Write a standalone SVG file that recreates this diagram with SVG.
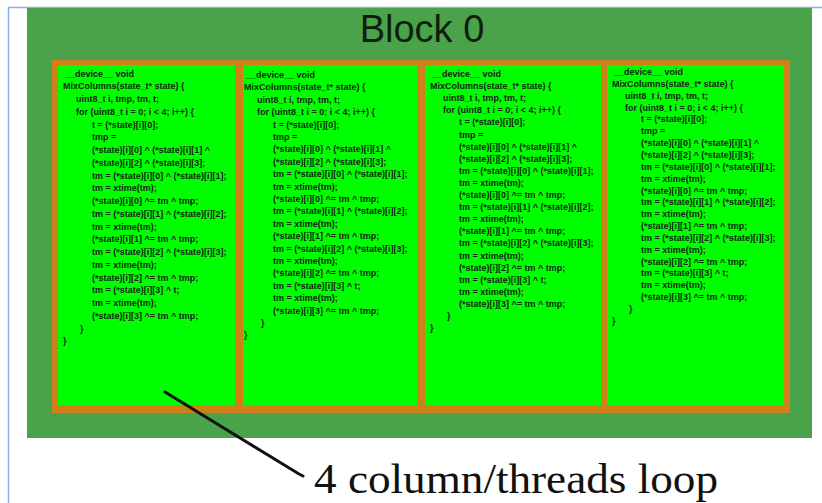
<svg xmlns="http://www.w3.org/2000/svg" width="822" height="503" viewBox="0 0 822 503">
  <style>
    .frame { fill: none; stroke: #86aee6; stroke-width: 1.5; }
    .block { fill: #4aa24a; }
    .border { fill: #d08018; }
    .col { fill: #00ff00; }
    .title { font-family: "Liberation Sans", Arial, sans-serif; font-size: 38px; fill: #0c1f0c; }
    .code { font-family: "Liberation Sans", Arial, sans-serif; font-size: 9px; font-weight: bold; fill: #122612; }
    .label { font-family: "Liberation Serif", "Times New Roman", serif; font-size: 43px; fill: #111; }
    .pointer { stroke: #111; stroke-width: 3; stroke-linecap: round; fill: none; }
  </style>

  <rect width="822" height="503" fill="#ffffff"/>
  <path class="frame" d="M8.5 503 V7.5 H822"/>

  <g id="block0">
    <rect class="block" x="27" y="8" width="785" height="430"/>
    <text class="title" x="422" y="42" text-anchor="middle">Block 0</text>
    <rect class="border" x="52" y="60" width="738" height="353"/>
  </g>

  <!-- thread 0: MixColumns kernel -->
  <g id="thread0">
    <rect class="col" x="58" y="65" width="177" height="340"/>
    <text class="code">
      <tspan x="65" y="76.5">__device__  void</tspan>
      <tspan x="63" dy="12.75">MixColumns(state_t* state) {</tspan>
      <tspan x="76" dy="12.75">uint8_t i, tmp, tm, t;</tspan>
      <tspan x="76" dy="12.75">for (uint8_t i = 0; i &lt; 4; i++) {</tspan>
      <tspan x="92" dy="12.75">t  = (*state)[i][0];</tspan>
      <tspan x="92" dy="12.75">tmp =</tspan>
      <tspan x="92" dy="12.75">(*state)[i][0] ^ (*state)[i][1] ^</tspan>
      <tspan x="92" dy="12.75">(*state)[i][2] ^ (*state)[i][3];</tspan>
      <tspan x="92" dy="12.75">tm = (*state)[i][0] ^ (*state)[i][1];</tspan>
      <tspan x="92" dy="12.75">tm = xtime(tm);</tspan>
      <tspan x="92" dy="12.75">(*state)[i][0] ^= tm ^ tmp;</tspan>
      <tspan x="92" dy="12.75">tm = (*state)[i][1] ^ (*state)[i][2];</tspan>
      <tspan x="92" dy="12.75">tm = xtime(tm);</tspan>
      <tspan x="92" dy="12.75">(*state)[i][1] ^= tm ^ tmp;</tspan>
      <tspan x="92" dy="12.75">tm = (*state)[i][2] ^ (*state)[i][3];</tspan>
      <tspan x="92" dy="12.75">tm = xtime(tm);</tspan>
      <tspan x="92" dy="12.75">(*state)[i][2] ^= tm ^ tmp;</tspan>
      <tspan x="92" dy="12.75">tm = (*state)[i][3] ^ t;</tspan>
      <tspan x="92" dy="12.75">tm = xtime(tm);</tspan>
      <tspan x="92" dy="12.75">(*state)[i][3] ^= tm ^ tmp;</tspan>
      <tspan x="80" dy="12.75">}</tspan>
      <tspan x="63" dy="12.75">}</tspan>
    </text>
  </g>

  <!-- thread 1 -->
  <g id="thread1">
    <rect class="col" x="243" y="65" width="174" height="340"/>
    <text class="code">
      <tspan x="246" y="78">__device__  void</tspan>
      <tspan x="244" dy="12.4">MixColumns(state_t* state) {</tspan>
      <tspan x="257" dy="12.4">uint8_t i, tmp, tm, t;</tspan>
      <tspan x="257" dy="12.4">for (uint8_t i = 0; i &lt; 4; i++) {</tspan>
      <tspan x="273" dy="12.4">t  = (*state)[i][0];</tspan>
      <tspan x="273" dy="12.4">tmp =</tspan>
      <tspan x="273" dy="12.4">(*state)[i][0] ^ (*state)[i][1] ^</tspan>
      <tspan x="273" dy="12.4">(*state)[i][2] ^ (*state)[i][3];</tspan>
      <tspan x="273" dy="12.4">tm = (*state)[i][0] ^ (*state)[i][1];</tspan>
      <tspan x="273" dy="12.4">tm = xtime(tm);</tspan>
      <tspan x="273" dy="12.4">(*state)[i][0] ^= tm ^ tmp;</tspan>
      <tspan x="273" dy="12.4">tm = (*state)[i][1] ^ (*state)[i][2];</tspan>
      <tspan x="273" dy="12.4">tm = xtime(tm);</tspan>
      <tspan x="273" dy="12.4">(*state)[i][1] ^= tm ^ tmp;</tspan>
      <tspan x="273" dy="12.4">tm = (*state)[i][2] ^ (*state)[i][3];</tspan>
      <tspan x="273" dy="12.4">tm = xtime(tm);</tspan>
      <tspan x="273" dy="12.4">(*state)[i][2] ^= tm ^ tmp;</tspan>
      <tspan x="273" dy="12.4">tm = (*state)[i][3] ^ t;</tspan>
      <tspan x="273" dy="12.4">tm = xtime(tm);</tspan>
      <tspan x="273" dy="12.4">(*state)[i][3] ^= tm ^ tmp;</tspan>
      <tspan x="261" dy="12.4">}</tspan>
      <tspan x="244" dy="12.4">}</tspan>
    </text>
  </g>

  <!-- thread 2 -->
  <g id="thread2">
    <rect class="col" x="425" y="65" width="176" height="340"/>
    <text class="code">
      <tspan x="432" y="77">__device__  void</tspan>
      <tspan x="430" dy="12.1">MixColumns(state_t* state) {</tspan>
      <tspan x="443" dy="12.1">uint8_t i, tmp, tm, t;</tspan>
      <tspan x="443" dy="12.1">for (uint8_t i = 0; i &lt; 4; i++) {</tspan>
      <tspan x="459" dy="12.1">t  = (*state)[i][0];</tspan>
      <tspan x="459" dy="12.1">tmp =</tspan>
      <tspan x="459" dy="12.1">(*state)[i][0] ^ (*state)[i][1] ^</tspan>
      <tspan x="459" dy="12.1">(*state)[i][2] ^ (*state)[i][3];</tspan>
      <tspan x="459" dy="12.1">tm = (*state)[i][0] ^ (*state)[i][1];</tspan>
      <tspan x="459" dy="12.1">tm = xtime(tm);</tspan>
      <tspan x="459" dy="12.1">(*state)[i][0] ^= tm ^ tmp;</tspan>
      <tspan x="459" dy="12.1">tm = (*state)[i][1] ^ (*state)[i][2];</tspan>
      <tspan x="459" dy="12.1">tm = xtime(tm);</tspan>
      <tspan x="459" dy="12.1">(*state)[i][1] ^= tm ^ tmp;</tspan>
      <tspan x="459" dy="12.1">tm = (*state)[i][2] ^ (*state)[i][3];</tspan>
      <tspan x="459" dy="12.1">tm = xtime(tm);</tspan>
      <tspan x="459" dy="12.1">(*state)[i][2] ^= tm ^ tmp;</tspan>
      <tspan x="459" dy="12.1">tm = (*state)[i][3] ^ t;</tspan>
      <tspan x="459" dy="12.1">tm = xtime(tm);</tspan>
      <tspan x="459" dy="12.1">(*state)[i][3] ^= tm ^ tmp;</tspan>
      <tspan x="447" dy="12.1">}</tspan>
      <tspan x="430" dy="12.1">}</tspan>
    </text>
  </g>

  <!-- thread 3 -->
  <g id="thread3">
    <rect class="col" x="607" y="65" width="177" height="340"/>
    <text class="code">
      <tspan x="614" y="75">__device__  void</tspan>
      <tspan x="612" dy="11.85">MixColumns(state_t* state) {</tspan>
      <tspan x="625" dy="11.85">uint8_t i, tmp, tm, t;</tspan>
      <tspan x="625" dy="11.85">for (uint8_t i = 0; i &lt; 4; i++) {</tspan>
      <tspan x="641" dy="11.85">t  = (*state)[i][0];</tspan>
      <tspan x="641" dy="11.85">tmp =</tspan>
      <tspan x="641" dy="11.85">(*state)[i][0] ^ (*state)[i][1] ^</tspan>
      <tspan x="641" dy="11.85">(*state)[i][2] ^ (*state)[i][3];</tspan>
      <tspan x="641" dy="11.85">tm = (*state)[i][0] ^ (*state)[i][1];</tspan>
      <tspan x="641" dy="11.85">tm = xtime(tm);</tspan>
      <tspan x="641" dy="11.85">(*state)[i][0] ^= tm ^ tmp;</tspan>
      <tspan x="641" dy="11.85">tm = (*state)[i][1] ^ (*state)[i][2];</tspan>
      <tspan x="641" dy="11.85">tm = xtime(tm);</tspan>
      <tspan x="641" dy="11.85">(*state)[i][1] ^= tm ^ tmp;</tspan>
      <tspan x="641" dy="11.85">tm = (*state)[i][2] ^ (*state)[i][3];</tspan>
      <tspan x="641" dy="11.85">tm = xtime(tm);</tspan>
      <tspan x="641" dy="11.85">(*state)[i][2] ^= tm ^ tmp;</tspan>
      <tspan x="641" dy="11.85">tm = (*state)[i][3] ^ t;</tspan>
      <tspan x="641" dy="11.85">tm = xtime(tm);</tspan>
      <tspan x="641" dy="11.85">(*state)[i][3] ^= tm ^ tmp;</tspan>
      <tspan x="629" dy="11.85">}</tspan>
      <tspan x="612" dy="11.85">}</tspan>
    </text>
  </g>

  <g id="connectors">
    <path class="pointer" d="M165 392 L299 474 L303 476"/>
  </g>

  <g id="label">
    <text class="label" x="314" y="493" textLength="404" lengthAdjust="spacingAndGlyphs">4 column/threads loop</text>
  </g>
</svg>
